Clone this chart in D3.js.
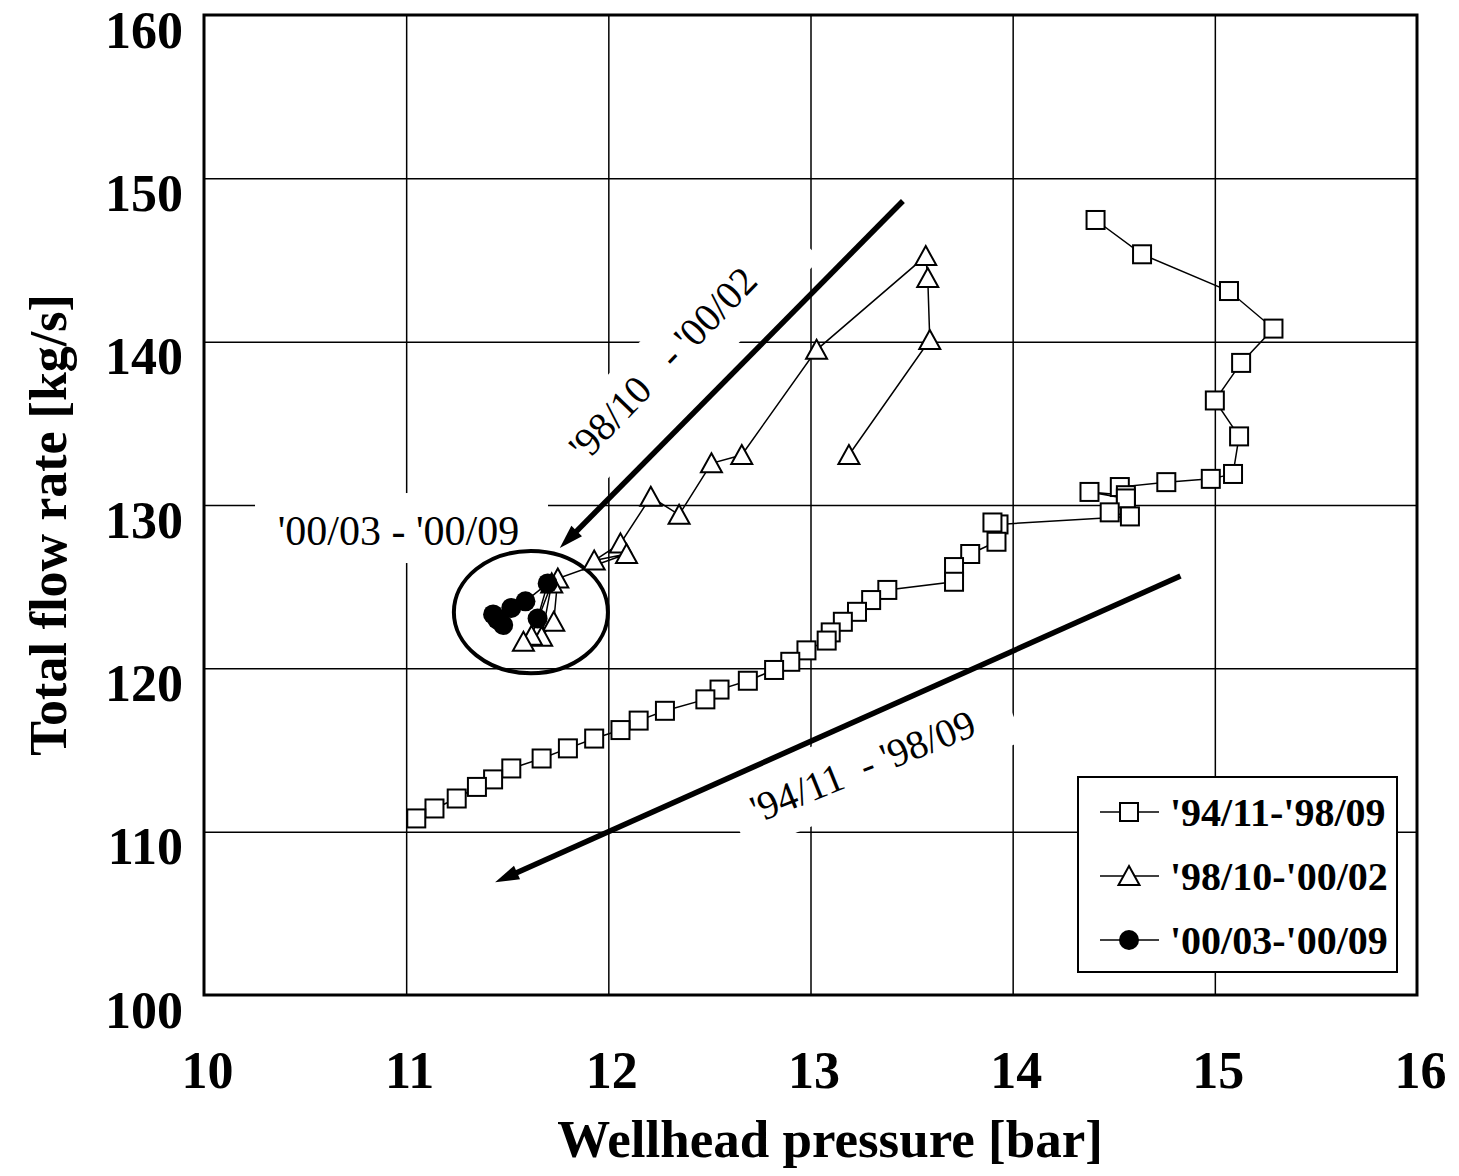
<!DOCTYPE html>
<html>
<head>
<meta charset="utf-8">
<script src="https://cdn.jsdelivr.net/npm/d3@7"></script>
<style>
  body { margin: 0; background: #fff; }
  text { font-family: "Liberation Serif", "Times New Roman", serif; }
</style>
</head>
<body>
<svg id="chart" width="1459" height="1176"></svg>
<script>
// axis ticks
const xTicks = [10, 11, 12, 13, 14, 15, 16];
const yTicks = [100, 110, 120, 130, 140, 150, 160];

// '94/11-'98/09  [wellhead pressure, total flow rate]
const period1 = [
  [14.41,147.45],[14.64,145.35],[15.07,143.1],[15.29,140.8],[15.13,138.7],[15.00,136.4],
  [15.12,134.2],[15.09,131.9],[14.98,131.6],[14.76,131.4],[14.53,131.1],[14.56,130.6],
  [14.38,130.8],[14.56,130.4],[14.48,129.55],[14.58,129.3],[13.93,128.81],[13.90,128.93],
  [13.92,127.75],[13.79,127.0],[13.71,126.2],[13.71,125.3],[13.38,124.8],[13.30,124.18],
  [13.23,123.46],[13.16,122.85],[13.10,122.2],[13.08,121.7],[12.98,121.1],[12.90,120.4],
  [12.82,119.9],[12.69,119.24],[12.55,118.7],[12.48,118.1],[12.28,117.4],[12.15,116.8],
  [12.06,116.22],[11.93,115.7],[11.80,115.1],[11.67,114.48],[11.52,113.87],[11.43,113.2],
  [11.35,112.74],[11.25,112.03],[11.14,111.42],[11.05,110.81]
];

// '98/10-'00/02
const period2 = [
  [13.19,133.06],[13.59,140.1],[13.58,143.9],[13.57,145.24],[13.03,139.5],[12.66,133.06],
  [12.51,132.55],[12.35,129.4],[12.21,130.5],[12.06,127.65],[11.93,126.6],[12.09,127.0],
  [11.75,125.5],[11.73,122.85],[11.67,121.93],[11.72,125.2],[11.62,122.0],[11.58,121.63]
];

// '00/03-'00/09
const period3 = [
  [11.65,123.05],[11.70,125.2],[11.59,124.1],[11.52,123.7],[11.43,123.3],[11.45,123.0],[11.48,122.65]
];

const seriesNames = ["'94/11-'98/09", "'98/10-'00/02", "'00/03-'00/09"];
const seriesSymbols = ["square", "triangle", "circle"];

// trend arrows [from, to] in data units
const trendArrows = [
  [[13.457,148.61],[11.76,127.36]],
  [[14.83,125.65],[11.44,106.9]]
];

// period labels, anchored at the centre of their white box
const noteTexts = ["'98/10   - '00/02", "'94/11  - '98/09", "'00/03 - '00/09"];
const noteAt = [[12.354,139.36],[13.304,114.26],[10.977,128.59]];

// circled cluster of the last period
const clusterCentre = [11.617,123.44];
const clusterRadius = [0.381,3.74];

const svg = d3.select("#chart");
const x = d3.scaleLinear().domain([10,16]).range([204,1417]);
const y = d3.scaleLinear().domain([100,160]).range([995,15]);
const W = x(16) - x(10), H = y(100) - y(160);

// grid
svg.append("g")
    .attr("transform", `translate(0,${y(100)})`)
    .call(d3.axisBottom(x).tickValues(xTicks.slice(1,-1)).tickSize(-H).tickFormat(""))
    .call(g => g.select(".domain").remove())
    .call(g => g.selectAll("line").attr("stroke","#000").attr("stroke-width",1.5));
svg.append("g")
    .attr("transform", `translate(${x(10)},0)`)
    .call(d3.axisLeft(y).tickValues(yTicks.slice(1,-1)).tickSize(-W).tickFormat(""))
    .call(g => g.select(".domain").remove())
    .call(g => g.selectAll("line").attr("stroke","#000").attr("stroke-width",1.5));

// white label boxes + labels  [w, h, angle, text dx, text dy, font size]
const boxSize = [[330,72,-46,-20,9,40],[297,74,-22,-10,14,40],[293,70,0,-3,17,42]];
noteTexts.forEach((t,i) => {
  const [w,h,ang,tx,ty,fs] = boxSize[i];
  const g = svg.append("g")
      .attr("transform", `translate(${x(noteAt[i][0])},${y(noteAt[i][1])}) rotate(${ang})`);
  g.append("rect")
      .attr("x",-w/2).attr("y",-h/2).attr("width",w).attr("height",h)
      .attr("fill","#fff");
  g.append("text")
      .attr("x",tx).attr("y",ty)
      .attr("text-anchor","middle")
      .style("white-space","pre")
      .style("font-size",fs + "px")
      .text(t);
});

// arrows
trendArrows.forEach(([a,b]) => {
  const x0 = x(a[0]), y0 = y(a[1]), x1 = x(b[0]), y1 = y(b[1]);
  const len = Math.hypot(x1-x0, y1-y0);
  const ux = (x1-x0)/len, uy = (y1-y0)/len;
  const hl = 24, hw = 7.5;
  svg.append("line")
      .attr("x1",x0).attr("y1",y0)
      .attr("x2",x1-ux*(hl-6)).attr("y2",y1-uy*(hl-6))
      .attr("stroke","#000").attr("stroke-width",5.5);
  const bx = x1-ux*hl, by = y1-uy*hl;
  svg.append("path")
      .attr("d",`M${x1},${y1}L${bx-uy*hw},${by+ux*hw}L${bx+uy*hw},${by-ux*hw}Z`)
      .attr("fill","#000");
});

// ellipse round the last period
svg.append("ellipse")
    .attr("cx",x(clusterCentre[0])).attr("cy",y(clusterCentre[1]))
    .attr("rx",x(10+clusterRadius[0])-x(10)).attr("ry",y(100)-y(100+clusterRadius[1]))
    .attr("fill","none").attr("stroke","#000").attr("stroke-width",4);

// marker drawing
function marker(sel, kind) {
  if (kind === "square") {
    sel.append("rect").attr("x",-9).attr("y",-9).attr("width",18).attr("height",18)
      .attr("fill","#fff").attr("stroke","#000").attr("stroke-width",2);
  } else if (kind === "triangle") {
    sel.append("path").attr("d","M0,-10L10.5,9L-10.5,9Z")
      .attr("fill","#fff").attr("stroke","#000").attr("stroke-width",2);
  } else {
    sel.append("circle").attr("r",10).attr("fill","#000");
  }
}

const line = d3.line().x(d => x(d[0])).y(d => y(d[1]));
[period1, period2, period3].forEach((data,i) => {
  svg.append("path")
      .datum(data)
      .attr("d",line)
      .attr("fill","none").attr("stroke","#000").attr("stroke-width",1.5);
  svg.append("g").selectAll("g")
    .data(data)
    .join("g")
      .attr("transform", d => `translate(${x(d[0])},${y(d[1])})`)
      .each(function(){ marker(d3.select(this), seriesSymbols[i]); });
});

// frame
svg.append("rect")
    .attr("x",x(10)).attr("y",y(160)).attr("width",W).attr("height",H)
    .attr("fill","none").attr("stroke","#000").attr("stroke-width",3);

// tick labels
svg.append("g")
    .attr("transform", `translate(${x(10)},0)`)
    .call(d3.axisLeft(y).tickValues(yTicks).tickSize(0).tickPadding(21).tickFormat(d3.format("d")))
    .call(g => g.select(".domain").remove())
    .call(g => g.selectAll("text")
        .attr("dy","0.62em")
        .attr("fill","#000")
        .style("font-family",'"Liberation Serif","Times New Roman",serif')
        .style("font-size","52px").style("font-weight","bold"));
svg.append("g")
    .attr("transform", `translate(3,${y(100)})`)
    .call(d3.axisBottom(x).tickValues(xTicks).tickSize(0).tickPadding(0).tickFormat(d3.format("d")))
    .call(g => g.select(".domain").remove())
    .call(g => g.selectAll("text")
        .attr("y",93).attr("dy",0)
        .attr("fill","#000")
        .style("font-family",'"Liberation Serif","Times New Roman",serif')
        .style("font-size","52px").style("font-weight","bold"));

// axis titles
svg.append("text")
    .attr("x",830).attr("y",1157)
    .attr("text-anchor","middle")
    .style("font-size","53px").style("font-weight","bold")
    .text("Wellhead pressure [bar]");
svg.append("text")
    .attr("transform","translate(66,525) rotate(-90)")
    .attr("text-anchor","middle")
    .style("font-size","52px").style("font-weight","bold")
    .text("Total flow rate [kg/s]");

// legend
const legend = svg.append("g").attr("transform","translate(1078,777)");
legend.append("rect")
    .attr("width",319).attr("height",195)
    .attr("fill","#fff").attr("stroke","#000").attr("stroke-width",2);
seriesNames.forEach((name,i) => {
  const row = legend.append("g").attr("transform",`translate(0,${35 + i*64})`);
  row.append("line").attr("x1",22).attr("x2",81)
      .attr("stroke","#000").attr("stroke-width",1.5);
  const m = row.append("g").attr("transform","translate(51,0)");
  marker(m, seriesSymbols[i]);
  row.append("text")
      .attr("x",92).attr("y",14)
      .style("font-size","40px").style("font-weight","bold")
      .text(name);
});
</script>
</body>
</html>
